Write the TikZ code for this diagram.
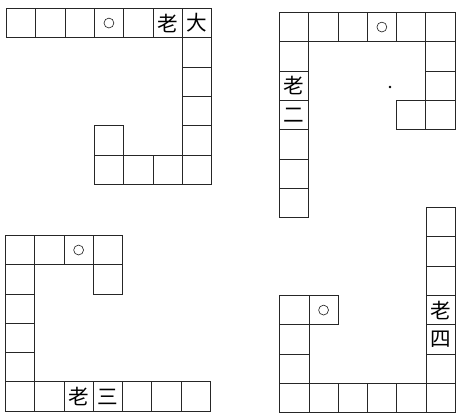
\documentclass[tikz,border=0pt]{standalone}
\usepackage{fontspec}
\newfontfamily\cjk{Noto Sans CJK SC}
\begin{document}
\begin{tikzpicture}[x=0.8cm,y=-0.8cm, every node/.style={font=\cjk\fontsize{16}{16}\selectfont}]
  \tikzstyle{cell}=[draw=black!85,line width=0.6pt,minimum size=0.8cm,inner sep=0pt,anchor=north west]
  \tikzstyle{ring}=[draw=black!85,line width=0.5pt,circle,minimum size=0.27cm,inner sep=0pt]
  \useasboundingbox (0,0) rectangle (15.563,14.096);
  % 老大
  \begin{scope}[shift={(0.205,0.273)}]
    \foreach \c in {0,...,4} \node[cell] (a0\c) at (\c,0) {};
    \node[cell] (a05) at (5,0) {老};
    \node[cell] (a06) at (6,0) {大};
    \foreach \r in {1,...,5} \node[cell] (a\r6) at (6,\r) {};
    \foreach \c in {3,4,5} \node[cell] (a5\c) at (\c,5) {};
    \node[cell] (a43) at (3,4) {};
    \node[ring] (a0o) at (a03.center) {};
  \end{scope}
  % 老二
  \begin{scope}[shift={(9.52,0.41)}]
    \foreach \c in {0,...,5} \node[cell] (b0\c) at (\c,0) {};
    \foreach \r in {1,4,5,6} \node[cell] (b\r0) at (0,\r) {};
    \node[cell] (b20) at (0,2) {老};
    \node[cell] (b30) at (0,3) {二};
    \foreach \r in {1,2,3} \node[cell] (b\r5) at (5,\r) {};
    \node[cell] (b34) at (4,3) {};
    \node[ring] (b0o) at (b03.center) {};
    \node[fill=black,circle,inner sep=0.8pt] (bdot) at (3.79,2.56) {};
  \end{scope}
  % 老三
  \begin{scope}[shift={(0.17,8.02)}]
    \foreach \c in {0,...,3} \node[cell] (c0\c) at (\c,0) {};
    \node[cell] (c13) at (3,1) {};
    \foreach \r in {1,...,4} \node[cell] (c\r0) at (0,\r) {};
    \foreach \c in {0,1,4,5,6} \node[cell] (c5\c) at (\c,5) {};
    \node[cell] (c52) at (2,5) {老};
    \node[cell] (c53) at (3,5) {三};
    \node[ring] (c0o) at (c02.center) {};
  \end{scope}
  % 老四
  \begin{scope}[shift={(9.53,7.07)}]
    \foreach \r in {0,1,2,5,6} \node[cell] (d\r5) at (5,\r) {};
    \node[cell] (d35) at (5,3) {老};
    \node[cell] (d45) at (5,4) {四};
    \foreach \c in {0,...,4} \node[cell] (d6\c) at (\c,6) {};
    \foreach \r in {3,4,5} \node[cell] (d\r0) at (0,\r) {};
    \node[cell] (d31) at (1,3) {};
    \node[ring] (d3o) at (d31.center) {};
  \end{scope}
\end{tikzpicture}
\end{document}
